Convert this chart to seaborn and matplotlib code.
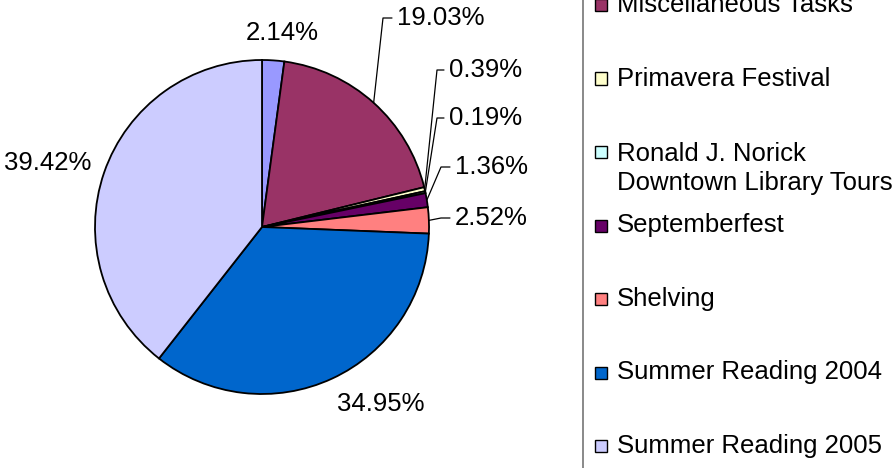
import matplotlib
matplotlib.use('Agg')
import matplotlib.pyplot as plt
import numpy as np
import seaborn as sns
from matplotlib.patches import Rectangle

sns.set_theme(style='white')
plt.rcParams['font.family'] = ['Liberation Sans', 'DejaVu Sans']

activities = ['Book Sale', 'Miscellaneous Tasks', 'Primavera Festival',
              'Ronald J. Norick\nDowntown Library Tours', 'Septemberfest',
              'Shelving', 'Summer Reading 2004', 'Summer Reading 2005']
shares = [2.14, 19.03, 0.39, 0.19, 1.36, 2.52, 34.95, 39.42]
colors = ['#9999FF', '#993366', '#FFFFCC', '#CCFFFF', '#660066',
          '#FF8080', '#0066CC', '#CCCCFF']

W, H = 895, 468
FS = 18.5
fig = plt.figure(figsize=(W / 100, H / 100), dpi=100)
cx, cy, r = 262, 227, 167
ax = fig.add_axes([(cx - r) / W, (H - cy - r) / H, 2 * r / W, 2 * r / H])

wedges, _ = ax.pie(shares, colors=colors, startangle=90, counterclock=False,
                   wedgeprops=dict(edgecolor='black', linewidth=1.3))
ax.set_xlim(-1, 1)
ax.set_ylim(-1, 1)
ax.axis('off')


def px(x, y):
    return (x - cx) / r, (cy - y) / r


# label placement (pixel positions), leader elbow for the small slices
label_pos = [(282, 33, 'center', None),
             (397, 18, 'left', (383, 18)),
             (449, 70, 'left', (437, 70)),
             (449, 118, 'left', (437, 118)),
             (455, 167, 'left', (441, 167)),
             (455, 218, 'left', (441, 218)),
             (381, 404, 'center', None),
             (48, 163, 'center', None)]

for w, val, (lx, ly, ha, elbow) in zip(wedges, shares, label_pos):
    tx, ty = px(lx, ly)
    ax.text(tx, ty, f'{val:.2f}%', ha=ha, va='center', fontsize=FS,
            color='black', clip_on=False)
    if elbow is not None:
        mid = np.deg2rad((w.theta1 + w.theta2) / 2)
        ex, ey = np.cos(mid), np.sin(mid)
        bx, by = px(*elbow)
        ax.plot([ex, bx, tx - 0.03], [ey, by, by], color='black', lw=0.9,
                clip_on=False)

# legend box (cropped at the top, right and bottom)
fig.patches.append(Rectangle((583 / W, -0.1), 0.5, 1.2, transform=fig.transFigure,
                             facecolor='none', edgecolor='#808080', lw=1.3))
first_y = 5 - 73.5
for i, (name, c) in enumerate(zip(activities, colors)):
    y = first_y + i * 73.5
    fig.patches.append(Rectangle((595 / W, (H - y - 6) / H), 12 / W, 12 / H,
                                 transform=fig.transFigure, facecolor=c,
                                 edgecolor='black', lw=1.0))
    ty = y + 16.5 if '\n' in name else y
    fig.text(617 / W, (H - ty) / H, name, ha='left', va='center',
             fontsize=FS, color='black', linespacing=1.3)

fig.savefig('out.png', dpi=100)
